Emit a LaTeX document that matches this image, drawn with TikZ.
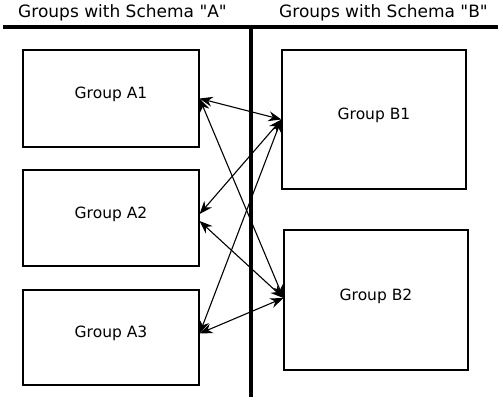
\documentclass[tikz,border=0pt]{standalone}
\usepackage{fontspec}
\setmainfont{DejaVu Sans}
\usetikzlibrary{arrows.meta}
\tikzset{
  group/.style={draw, line width=1.2pt, inner sep=0pt, minimum width=176pt,
    text depth=11pt, font=\fontsize{15.5}{18}\selectfont},
  title/.style={anchor=base, font=\fontsize{17}{20}\selectfont},
  link/.style={{Stealth[length=13pt,width=10pt]}-{Stealth[length=13pt,width=10pt]}, line width=1.1pt}
}

\begin{document}
\begin{tikzpicture}[x=1pt, y=-1pt]
		%%%%% START %%%%%
		\useasboundingbox (0, 0) rectangle (503, 400);
		
		\node[title] (titleA) at (122.5, 17) {Groups with Schema \textquotedbl A\textquotedbl};
		\node[title] (titleB) at (383.5, 17) {Groups with Schema \textquotedbl B\textquotedbl};
		
		\draw[line width=3.5pt] (3, 27) -- (498, 27);
		\draw[line width=3.5pt] (251, 27) -- (251, 397);
		
		\node[group, minimum height=97pt] (A1) at (111, 98.5) {Group A1};
		\node[group, minimum height=96pt] (A2) at (111, 218) {Group A2};
		\node[group, minimum height=95pt] (A3) at (111, 337.5) {Group A3};
		
		\node[group, minimum width=184pt, minimum height=139pt] (B1) at (374, 119.5) {Group B1};
		\node[group, minimum width=184pt, minimum height=140pt] (B2) at (376, 300) {Group B2};
		
		\draw[link] (A1.east) -- (B1.west);
		\draw[link] (A1.east) -- ([yshift=2pt]B2.west);
		\draw[link] ([yshift=4pt]A2.east) -- (B1.west);
		\draw[link] ([yshift=-3pt]A2.east) -- ([yshift=2pt]B2.west);
		\draw[link] ([yshift=4pt]A3.east) -- (B1.west);
		\draw[link] ([yshift=4pt]A3.east) -- ([yshift=2pt]B2.west);
		
		%%%%% END %%%%%
\end{tikzpicture}
\end{document}
